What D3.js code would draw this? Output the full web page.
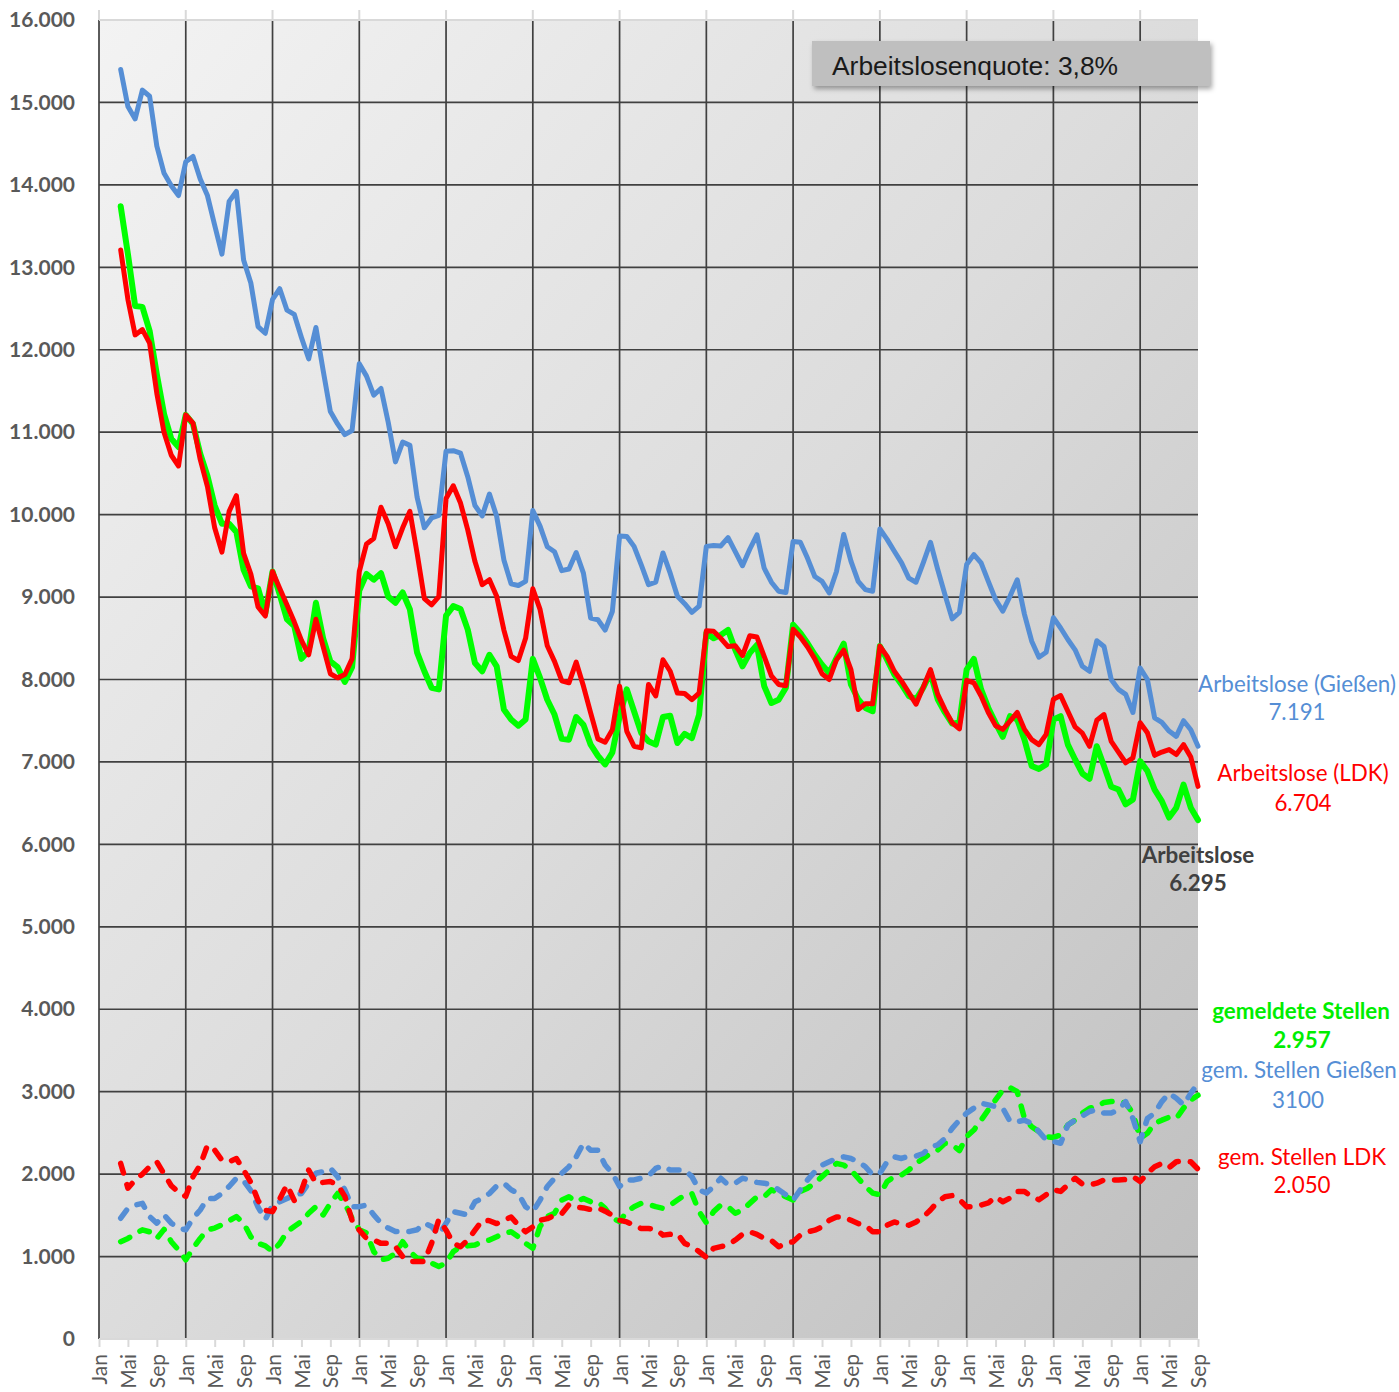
<!DOCTYPE html>
<html><head><meta charset="utf-8">
<script src="https://cdn.jsdelivr.net/npm/d3@7"></script>
<style>body{margin:0;background:#fff}svg{display:block}</style>
</head><body>
<svg id="c" width="1399" height="1392"></svg>
<script>
// month index 0 = Jan of first year; data start at index 3 (Apr)
const startIndex = 3;
const endIndex = 152;
const monthLabels = ["Jan","Mai","Sep"];
const yTicks = [0,1000,2000,3000,4000,5000,6000,7000,8000,9000,10000,11000,12000,13000,14000,15000,16000];

const arbGiessen = [15400,14950,14800,15150,15075,14470,14140,13990,13870,
14280,14345,14070,13870,13510,13160,13800,13920,13090,12810,12280,12200,
12610,12740,12480,12430,12150,11890,12270,11750,11250,11100,10970,11020,
11830,11680,11450,11530,11120,10640,10880,10840,10210,9840,9960,9990,
10770,10775,10745,10460,10110,9985,10250,9980,9450,9160,9140,9190,
10050,9860,9610,9550,9320,9340,9540,9290,8745,8725,8600,8825,
9740,9735,9615,9390,9150,9180,9535,9290,9010,8920,8815,8890,
9615,9625,9620,9720,9550,9380,9580,9755,9350,9180,9070,9055,
9675,9665,9470,9250,9190,9050,9310,9760,9435,9190,9090,9070,
9825,9700,9555,9415,9230,9180,9415,9665,9335,9030,8735,8815,
9395,9515,9415,9190,8970,8830,9010,9210,8790,8465,8270,8330,
8750,8625,8485,8360,8160,8100,8470,8400,8000,7880,7820,7600,
8140,8000,7535,7480,7375,7310,7500,7390,7191];

const arbLDK = [13210,12610,12180,12245,12080,11470,10995,10720,10590,
11210,11110,10670,10340,9840,9545,10040,10230,9530,9280,8880,8770,
9310,9105,8905,8700,8475,8300,8730,8400,8070,8020,8060,8250,
9310,9645,9710,10090,9890,9610,9840,10040,9530,8980,8905,9005,
10195,10350,10140,9815,9430,9150,9210,9010,8600,8280,8230,8500,
9100,8850,8410,8220,7985,7960,8210,7920,7595,7280,7240,7390,
7920,7370,7190,7170,7940,7800,8240,8100,7835,7830,7755,7835,
8590,8585,8500,8400,8410,8290,8530,8515,8280,8045,7940,7925,
8610,8515,8395,8250,8070,8000,8240,8355,8120,7635,7705,7705,
8405,8280,8100,7980,7840,7700,7905,8120,7820,7635,7475,7400,
7990,7960,7800,7600,7440,7395,7495,7600,7395,7270,7210,7335,
7760,7805,7615,7425,7350,7190,7505,7575,7250,7120,6990,7050,
7475,7355,7080,7120,7150,7090,7210,7060,6704];

const arbGesamt = [13740,13160,12530,12520,12230,11700,11220,10920,10820,
11210,11100,10740,10470,10110,9890,9890,9790,9330,9130,9105,8800,
9310,9030,8730,8650,8250,8350,8930,8500,8220,8150,7970,8150,
9080,9280,9210,9290,9005,8930,9055,8850,8325,8100,7900,7880,
8775,8890,8855,8605,8200,8100,8300,8160,7635,7515,7440,7515,
8250,8020,7755,7575,7280,7270,7545,7450,7210,7075,6970,7115,
7550,7880,7615,7350,7250,7210,7545,7560,7230,7340,7290,7575,
8560,8500,8540,8600,8360,8160,8320,8420,7920,7715,7755,7900,
8665,8565,8440,8300,8180,8080,8260,8435,7940,7760,7655,7615,
8405,8240,8060,7940,7800,7760,7900,8080,7760,7600,7465,7480,
8120,8250,7880,7655,7475,7305,7555,7515,7270,6950,6915,6970,
7515,7555,7210,7030,6860,6795,7190,6950,6700,6665,6485,6545,
7010,6890,6665,6525,6325,6445,6725,6445,6295];

const stelGiessen = [1465,1585,1625,1645,1485,1405,1505,1405,1345,
1325,1465,1565,1705,1705,1765,1850,1950,1920,1800,1600,1450,
1625,1665,1705,1745,1765,1890,2010,2030,2070,1970,1810,1605,
1605,1625,1505,1405,1345,1305,1305,1305,1325,1405,1365,1265,
1405,1545,1525,1505,1665,1705,1765,1855,1890,1810,1765,1605,
1545,1685,1850,1950,2010,2090,2210,2375,2290,2290,2110,2010,
1850,1930,1930,1950,1980,2070,2100,2050,2050,2050,1970,1810,
1770,1850,1950,1870,1890,1950,1930,1900,1890,1870,1810,1750,
1685,1810,1930,2030,2110,2150,2190,2210,2190,2150,2090,1990,
2010,2150,2210,2190,2220,2220,2250,2330,2355,2430,2555,2655,
2740,2800,2860,2840,2820,2800,2640,2635,2655,2615,2515,2415,
2395,2375,2595,2655,2705,2760,2780,2740,2740,2780,2880,2675,
2395,2675,2740,2880,2980,2920,2840,2980,3100];

const stelGesamt = [1180,1220,1275,1325,1300,1220,1330,1180,1080,
960,1100,1220,1325,1345,1385,1435,1485,1405,1240,1160,1130,
1060,1160,1300,1365,1425,1525,1605,1505,1645,1765,1645,1465,
1325,1285,1060,960,980,1040,1180,1060,980,960,920,880,
920,1060,1120,1130,1140,1180,1200,1240,1285,1300,1240,1160,
1100,1365,1485,1525,1685,1725,1665,1705,1665,1665,1585,1465,
1425,1545,1605,1645,1635,1605,1585,1625,1685,1745,1765,1545,
1410,1545,1625,1605,1525,1565,1645,1725,1725,1810,1770,1725,
1685,1790,1830,1890,1970,2050,2130,2110,2050,1950,1850,1770,
1750,1910,1970,1990,2050,2130,2190,2250,2290,2375,2355,2285,
2455,2535,2655,2780,2900,3020,3050,3000,2675,2575,2515,2455,
2445,2475,2595,2655,2740,2800,2820,2870,2880,2890,2860,2740,
2435,2495,2615,2655,2690,2675,2800,2900,2957];

const stelLDK = [2130,1830,1930,2000,2090,2150,2000,1860,1780,
1730,1970,2110,2350,2290,2170,2150,2190,2050,1900,1680,1560,
1545,1700,1870,1680,1800,2050,1890,1900,1910,1870,1730,1440,
1320,1220,1200,1160,1160,1120,1000,940,940,940,1160,1450,
1320,1160,1120,1200,1320,1440,1435,1400,1440,1480,1380,1300,
1360,1440,1460,1500,1520,1630,1600,1590,1570,1590,1550,1500,
1440,1420,1380,1340,1340,1330,1260,1270,1275,1160,1120,1060,
990,1100,1120,1140,1200,1270,1300,1270,1220,1195,1120,1160,
1180,1260,1300,1320,1360,1440,1480,1480,1440,1400,1380,1300,
1300,1380,1420,1395,1380,1420,1480,1565,1665,1725,1740,1690,
1605,1605,1625,1650,1725,1665,1710,1790,1790,1725,1690,1750,
1810,1790,1870,1950,1880,1870,1890,1930,1930,1930,1935,1970,
1910,2010,2090,2130,2080,2150,2160,2150,2060];

const quoteText = "Arbeitslosenquote: 3,8%";

(function draw() {
const svg = d3.select("#c");
const W = 1399, H = 1392;
const pL = 99, pR = 1198, pT = 20, pB = 1339;
const x = d3.scaleLinear().domain([0, endIndex]).range([pL, pR]);
const y = d3.scaleLinear().domain([0, 16000]).range([pB, pT]);
const de = d3.formatLocale({decimal: ",", thousands: ".", grouping: [3], currency: ["", "€"]});
const fmt = de.format(",d");

const defs = svg.append("defs");
const grad = defs.append("linearGradient").attr("id", "bg")
  .attr("x1", "0").attr("y1", "0").attr("x2", "1").attr("y2", "1");
grad.append("stop").attr("offset", "0").attr("stop-color", "#f3f3f3");
grad.append("stop").attr("offset", "0.5").attr("stop-color", "#dcdcdc");
grad.append("stop").attr("offset", "1").attr("stop-color", "#bebebe");
const sh = defs.append("filter").attr("id", "shadow").attr("x", "-10%").attr("y", "-30%").attr("width", "130%").attr("height", "180%");
sh.append("feDropShadow").attr("dx", 2).attr("dy", 3).attr("stdDeviation", 2.5).attr("flood-color", "#000").attr("flood-opacity", 0.35);

svg.append("rect").attr("width", W).attr("height", H).attr("fill", "#fff");
svg.append("rect").attr("x", pL).attr("y", pT).attr("width", pR - pL).attr("height", pB - pT).attr("fill", "url(#bg)");

const grid = svg.append("g");
grid.selectAll("line.h").data(yTicks.filter(v => v > 0 && v < 16000)).join("line")
  .attr("class", "h")
  .attr("x1", pL).attr("x2", pR).attr("y1", d => y(d)).attr("y2", d => y(d))
  .attr("stroke", "#404040").attr("stroke-width", 1.7);

const monthIdx = d3.range(0, endIndex + 1, 4);
const janIdx = monthIdx.filter(i => i % 12 === 0);
grid.selectAll("line.v").data(janIdx).join("line")
  .attr("class", "v")
  .attr("x1", d => x(d)).attr("x2", d => x(d)).attr("y1", pT).attr("y2", pB)
  .attr("stroke", "#404040").attr("stroke-width", 1.7);

svg.append("line").attr("x1", pL).attr("x2", pR).attr("y1", pT).attr("y2", pT)
  .attr("stroke", "#d9d9d9").attr("stroke-width", 2);
svg.append("g").selectAll("line").data(janIdx).join("line")
  .attr("x1", d => x(d)).attr("x2", d => x(d)).attr("y1", pT - 10).attr("y2", pT)
  .attr("stroke", "#d9d9d9").attr("stroke-width", 2);

const xAxis = d3.axisBottom(x).tickValues(monthIdx).tickSize(8).tickFormat(i => monthLabels[(i % 12) / 4]);
const gx = svg.append("g").attr("transform", `translate(0,${pB})`).call(xAxis);
gx.select(".domain").attr("stroke", "#d9d9d9").attr("stroke-width", 2).attr("d", `M${pL},0H${pR}`);
gx.selectAll(".tick line").attr("stroke", "#d9d9d9").attr("stroke-width", 2);
gx.selectAll(".tick text")
  .attr("transform", "rotate(-90)")
  .attr("text-anchor", "end")
  .attr("x", -15).attr("y", 0).attr("dy", "0.36em")
  .attr("fill", "#595959")
  .style("font-family", "Lato, 'Open Sans', sans-serif").style("font-size", "21px");

const yAxis = d3.axisLeft(y).tickValues(yTicks).tickSize(0).tickPadding(24).tickFormat(fmt);
const gy = svg.append("g").attr("transform", `translate(${pL},0)`).call(yAxis);
gy.select(".domain").remove();
gy.selectAll(".tick text").attr("fill", "#595959")
  .style("font-family", "Lato, sans-serif").style("font-size", "21px").style("font-weight", "bold");

const xs = d3.range(startIndex, endIndex + 1);
const line = d3.line().x((d, k) => x(xs[k])).y(d => y(d));
const series = [
  {data: arbGesamt, color: "#00ff00", w: 6, dash: null},
  {data: arbLDK, color: "#ff0000", w: 5, dash: null},
  {data: arbGiessen, color: "#558ed5", w: 5, dash: null},
  {data: stelGesamt, color: "#00ff00", w: 5.5, dash: "10,12"},
  {data: stelGiessen, color: "#558ed5", w: 5.5, dash: "10,12"},
  {data: stelLDK, color: "#ff0000", w: 5.5, dash: "10,12"}
];
svg.append("g").selectAll("path").data(series).join("path")
  .attr("d", s => line(s.data))
  .attr("fill", "none").attr("stroke", s => s.color).attr("stroke-width", s => s.w)
  .attr("stroke-linejoin", "round").attr("stroke-linecap", "round")
  .attr("stroke-dasharray", s => s.dash);

svg.append("rect").attr("x", 812).attr("y", 41).attr("width", 398).attr("height", 45)
  .attr("fill", "#bfbfbf").attr("filter", "url(#shadow)");
svg.append("text").attr("x", 832).attr("y", 75).text(quoteText)
  .attr("fill", "#1a1a1a").style("font-family", "'Liberation Sans', Arial, sans-serif").style("font-size", "26.4px");

const labels = [
  {t: "Arbeitslose (Gießen)", x: 1297, y: 684, c: "#558ed5", b: false},
  {t: "7.191", x: 1297, y: 712, c: "#558ed5", b: false},
  {t: "Arbeitslose (LDK)", x: 1303, y: 773, c: "#ff0000", b: false},
  {t: "6.704", x: 1303, y: 803, c: "#ff0000", b: false},
  {t: "Arbeitslose", x: 1198, y: 855, c: "#404040", b: true},
  {t: "6.295", x: 1198, y: 883, c: "#404040", b: true},
  {t: "gemeldete Stellen", x: 1301, y: 1011, c: "#00ee00", b: true},
  {t: "2.957", x: 1302, y: 1040, c: "#00ee00", b: true},
  {t: "gem. Stellen Gießen", x: 1299, y: 1070, c: "#558ed5", b: false},
  {t: "3100", x: 1298, y: 1100, c: "#558ed5", b: false},
  {t: "gem. Stellen LDK", x: 1302, y: 1157, c: "#ff0000", b: false},
  {t: "2.050", x: 1302, y: 1185, c: "#ff0000", b: false}
];
svg.append("g").selectAll("text").data(labels).join("text")
  .attr("x", d => d.x).attr("y", d => d.y).attr("dy", "0.35em")
  .attr("text-anchor", "middle").attr("fill", d => d.c)
  .style("font-family", "Lato, sans-serif").style("font-size", "22.4px")
  .style("font-weight", d => d.b ? "bold" : "normal")
  .text(d => d.t);
})();
</script>
</body></html>
